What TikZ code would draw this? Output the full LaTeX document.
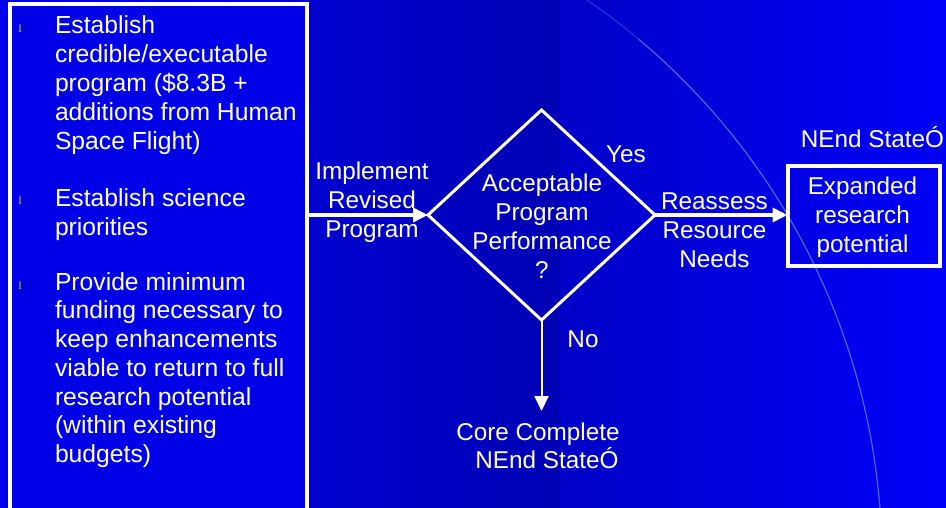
\documentclass[tikz,border=0pt]{standalone}
\usepackage{fontspec}
\setmainfont{Liberation Sans}
\newfontfamily\bulletfont{Liberation Serif}
\usetikzlibrary{shapes.geometric,arrows.meta}
\definecolor{bgA}{HTML}{0000F2}
\definecolor{bgB}{HTML}{0000B4}
\definecolor{bgC}{HTML}{0000C8}
\definecolor{bgD}{HTML}{0000F8}
\definecolor{boxc}{HTML}{0000E8}
\definecolor{arcc}{HTML}{5A90FF}
\definecolor{bulletc}{HTML}{E8E800}
\newcommand{\mlc}[1]{\begin{tabular}[t]{@{}c@{}}#1\end{tabular}}
\newcommand{\mll}[1]{\begin{tabular}[t]{@{}l@{}}#1\end{tabular}}
\begin{document}
\begin{tikzpicture}[x=1pt,y=-1pt,
  txt/.style={font=\fontsize{24.3}{28.8}\selectfont, text=white, inner sep=0, outer sep=0, anchor=base},
  ltxt/.style={font=\fontsize{24.7}{28.8}\selectfont, text=white, inner sep=0, outer sep=0, anchor=base west},
  bul/.style={font=\bulletfont\fontsize{11}{12}\selectfont, text=bulletc, inner sep=0, anchor=base west},
  frame/.style={draw=white, line width=4pt, inner sep=0, outer sep=0, anchor=north west},
  bigarrow/.style={draw=white, line width=4pt, -{Triangle[length=15pt,width=14pt]}},
  thinarrow/.style={draw=white, line width=2pt, -{Triangle[length=15pt,width=14pt]}},
  arcline/.style={draw=arcc, line width=1.2pt, opacity=0.75}]
\useasboundingbox (0,0) rectangle (946,508);
\begin{scope}
\clip (0,0) rectangle (946,508);
\fill[left color=bgA, right color=bgB] (0,0) rectangle (560,508);
\fill[left color=bgC, right color=bgD] (560,0) rectangle (946,508);
\draw[arcline, opacity=0.35] (201,561) ++(-56:681) arc[start angle=-56, end angle=-50, radius=681];
\draw[arcline] (201,561) ++(-50:681) arc[start angle=-50, end angle=0, radius=681];
% left box
\node[frame, fill=boxc, minimum width=297.5pt, minimum height=516pt] (lbox) at (9.5,4) {};
\end{scope}
% bullets
\node[bul] (m1) at (18.5,33) {l};
\node[bul] (m2) at (18.5,205) {l};
\node[bul] (m3) at (18.5,289) {l};
\node[ltxt] (b1) at (55,34) {\mll{Establish\\credible/executable\\program (\$8.3B +\\additions from Human\\Space Flight)}};
\node[ltxt] (b2) at (55,207) {\mll{Establish science\\priorities}};
\node[ltxt] (b3) at (55,290) {\mll{Provide minimum\\funding necessary to\\keep enhancements\\viable to return to full\\research potential\\(within existing\\budgets)}};
% decision
\node[diamond, draw=white, line width=3pt, minimum width=227pt, minimum height=210pt, inner sep=0, outer sep=0] (dec) at (541.5,215) {};
\node[txt] (dectxt) at (542,192) {\mlc{Acceptable\\Program\\Performance\\?}};
% right box
\node[frame, minimum width=152pt, minimum height=99.5pt] (rbox) at (787.5,166) {};
\node[txt] (rtxt) at (862.5,195) {\mlc{Expanded\\research\\potential}};
\node[txt] (rstate) at (872.5,148) {NEnd StateÓ};
% connectors
\draw[bigarrow] (lbox.east |- dec.west) -- (dec.west);
\draw[bigarrow] (dec.east) -- (dec.east -| rbox.west);
\coordinate (coreTip) at (541.5,411);
\draw[thinarrow] (dec.south) -- (coreTip);
% labels
\node[txt] (impl) at (372,180) {\mlc{Implement\\Revised\\Program}};
\node[txt] (yes) at (626,163) {Yes};
\node[txt] (reas) at (714.5,210) {\mlc{Reassess\\Resource\\Needs}};
\node[txt] (no) at (583,347) {No};
\node[txt] (core1) at (538,440) {Core Complete};
\node[txt] (core2) at (547,468) {NEnd StateÓ};
\end{tikzpicture}
\end{document}
